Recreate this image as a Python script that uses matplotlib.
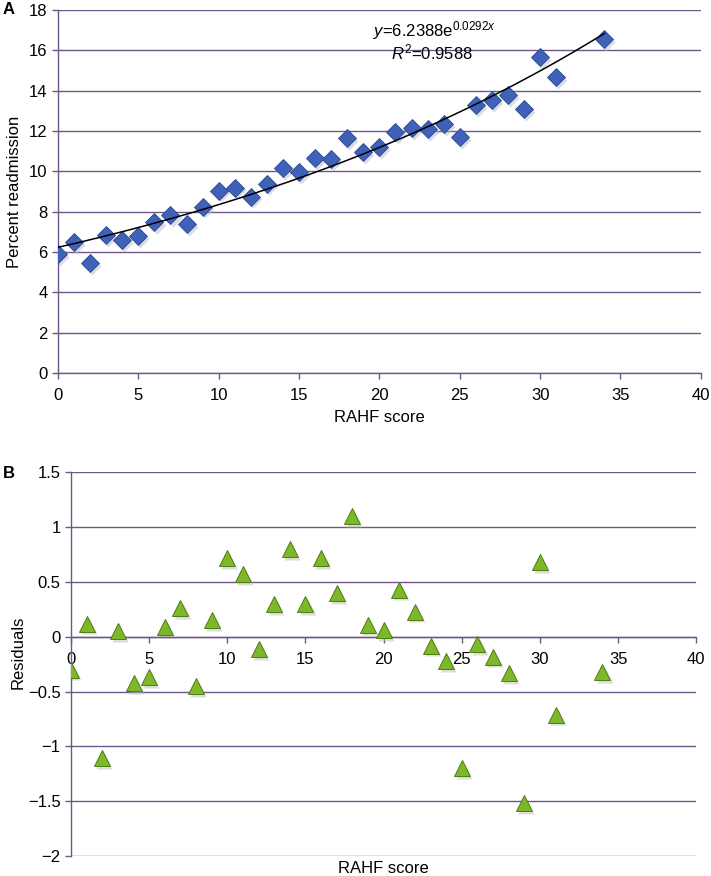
import numpy as np
import matplotlib.pyplot as plt
import matplotlib.transforms as mtransforms

plt.rcParams['font.family'] = ['Liberation Sans', 'DejaVu Sans']
plt.rcParams['mathtext.fontset'] = 'custom'
plt.rcParams['mathtext.rm'] = 'Liberation Sans'
plt.rcParams['mathtext.it'] = 'Liberation Sans:italic'

# panel A: percent readmission by RAHF score
score = [0, 1, 2, 3, 4, 5, 6, 7, 8, 9, 10, 11, 12, 13, 14, 15, 16, 17,
         18, 19, 20, 21, 22, 23, 24, 25, 26, 27, 28, 29, 30, 31, 34]
readmit = [5.9, 6.5, 5.45, 6.85, 6.6, 6.8, 7.5, 7.85, 7.4, 8.25, 9.05, 9.2,
           8.75, 9.4, 10.15, 9.95, 10.65, 10.6, 11.65, 10.97, 11.22, 11.93,
           12.15, 12.1, 12.33, 11.71, 13.29, 13.53, 13.78, 13.07, 15.65,
           14.69, 16.54]
# exponential fit y = a*exp(b*x)
fit_a, fit_b = 6.2388, 0.0292

# panel B: residuals
resid = [-0.30, 0.12, -1.11, 0.05, -0.42, -0.37, 0.09, 0.26, -0.45, 0.15,
         0.72, 0.57, -0.11, 0.30, 0.80, 0.30, 0.72, 0.40, 1.10, 0.11, 0.06,
         0.43, 0.23, -0.08, -0.22, -1.20, -0.07, -0.18, -0.33, -1.52, 0.68,
         -0.71, -0.32]

grid_col = '#6f5787'
fs = 12

fig = plt.figure(figsize=(7.11, 8.76), dpi=100)
axA = fig.add_axes([0.0816, 0.574, 0.904, 0.4146])
axB = fig.add_axes([0.0999, 0.0228, 0.8794, 0.438])


def shadow(ax, dx=1.5, dy=-2):
    return ax.transData + mtransforms.ScaledTranslation(dx / 72, dy / 72, fig.dpi_scale_trans)


# --- A ---
axA.plot(score, readmit, 'D', ms=9.5, color='#bbbbcc', alpha=0.5, mec='none',
         transform=shadow(axA), zorder=2)
axA.plot(score, readmit, 'D', ms=9.5, color='#3f62b8', mec='#2b478e', mew=0.6, zorder=3)
xf = np.linspace(0, max(score), 200)
axA.plot(xf, fit_a * np.exp(fit_b * xf), color='black', lw=1.1, zorder=4)
axA.text(23.4, 17.0, r'$y$=6.2388e$^{0.0292\mathit{x}}$', ha='center', va='center', fontsize=fs)
axA.text(23.3, 15.9, r'$R^{2}$=0.9588', ha='center', va='center', fontsize=fs)
axA.set_xlim(0, 40)
axA.set_ylim(0, 18)
axA.set_xticks(range(0, 41, 5))
axA.set_yticks(range(0, 19, 2))
axA.set_xlabel('RAHF score', fontsize=fs, labelpad=5)
axA.set_ylabel('Percent readmission', fontsize=fs)
axA.yaxis.set_label_coords(-0.056, 0.5)
axA.text(-0.0855, 1.0, 'A', transform=axA.transAxes, fontsize=fs, fontweight='bold',
         ha='left', va='center')

# --- B ---
axB.plot(score, resid, '^', ms=11, color='#bbbbbb', alpha=0.5, mec='none',
         transform=shadow(axB), zorder=2)
axB.plot(score, resid, '^', ms=11, color='#7cb82a', mec='#4f7d12', mew=0.7, zorder=3)
axB.set_xlim(0, 40)
axB.set_ylim(-2, 1.5)
axB.set_xticks(range(0, 41, 5))
axB.set_yticks(np.arange(-2, 1.51, 0.5))
axB.set_yticklabels(['\u22122', '\u22121.5', '\u22121', '\u22120.5', '0', '0.5', '1', '1.5'])
axB.spines['bottom'].set_position(('data', 0))
axB.set_xlabel('RAHF score', fontsize=fs)
axB.xaxis.set_label_coords(0.5, -0.012)
axB.set_ylabel('Residuals', fontsize=fs)
axB.yaxis.set_label_coords(-0.073, 0.53)
axB.text(-0.109, 0.998, 'B', transform=axB.transAxes, fontsize=fs, fontweight='bold',
         ha='left', va='center')

for ax in (axA, axB):
    for s in ('top', 'right'):
        ax.spines[s].set_visible(False)
    for s in ('left', 'bottom'):
        ax.spines[s].set_color(grid_col)
        ax.spines[s].set_linewidth(1.0)
    ax.grid(axis='y', color=grid_col, lw=1.0)
    ax.set_axisbelow(True)
    ax.tick_params(colors=grid_col, labelcolor='black', labelsize=fs, length=4, width=1)
    ax.tick_params(axis='x', pad=7)

fig.savefig('out.png', dpi=100)
